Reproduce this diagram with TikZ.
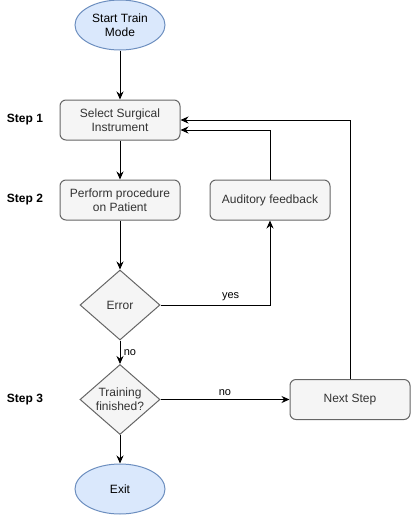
\documentclass[tikz,border=0pt]{standalone}
\usepackage{fontspec}
\setmainfont{Liberation Sans}
\usetikzlibrary{arrows.meta,shapes.geometric}
\definecolor{termfill}{HTML}{DAE8FC}
\definecolor{termline}{HTML}{6C8EBF}
\definecolor{boxfill}{HTML}{F5F5F5}
\definecolor{boxline}{HTML}{666666}
\definecolor{boxtext}{HTML}{333333}

\begin{document}
\begin{tikzpicture}[
    font=\fontsize{12}{14}\selectfont,
    terminal/.style={ellipse,draw=termline,fill=termfill,line width=1pt,
        minimum width=90pt,minimum height=50pt,inner sep=0pt,align=center},
    procbox/.style={rectangle,rounded corners=6pt,draw=boxline,fill=boxfill,
        text=boxtext,line width=1pt,minimum width=120pt,minimum height=40pt,
        inner sep=0pt,align=center},
    decision/.style={diamond,aspect=1.14,draw=boxline,fill=boxfill,text=boxtext,
        line width=1pt,minimum width=80pt,minimum height=70pt,inner sep=0pt,
        align=center},
    steplabel/.style={font=\fontsize{12}{14}\selectfont\bfseries},
    edgelabel/.style={font=\fontsize{11}{13}\selectfont},
    flow/.style={-{Stealth[length=8pt,width=7pt]},line width=1pt}
]
    \useasboundingbox (0,0) rectangle (411pt,-515pt);

    \node[terminal] (start) at (120pt,-25pt) {Start Train\\Mode};
    \node[procbox] (select) [below of=start,node distance=95pt] {Select Surgical\\Instrument};
    \node[procbox] (perform) [below of=select,node distance=80pt] {Perform procedure\\on Patient};
    \node[decision] (error) [below of=perform,node distance=105pt] {Error};
    \node[decision] (finished) [below of=error,node distance=94.5pt] {Training\\finished?};
    \node[terminal] (exit) [below of=finished,node distance=89.5pt] {Exit};

    \node[procbox] (feedback) [right of=perform,node distance=150pt] {Auditory feedback};
    \node[procbox] (nextstep) [right of=finished,node distance=230pt] {Next Step};

    \node[steplabel] (step1) [left of=select,node distance=95pt] {Step 1};
    \node[steplabel] (step2) [left of=perform,node distance=95pt] {Step 2};
    \node[steplabel] (step3) [left of=finished,node distance=95pt] {Step 3};

    \draw[flow] (start) -- (select);
    \draw[flow] (select) -- (perform);
    \draw[flow] (perform) -- (error);
    \draw[flow] (error) -- node[edgelabel,right] {no} (finished);
    \draw[flow] (finished) -- (exit);
    \draw[flow] (error.east) -| node[edgelabel,pos=0.32,above] {yes} (feedback.south);
    \draw[flow] (feedback.north) |- ([yshift=-10pt]select.east);
    \draw[flow] (finished.east) -- node[edgelabel,above] {no} (nextstep.west);
    \draw[flow] (nextstep.north) |- (select.east);
\end{tikzpicture}
\end{document}
